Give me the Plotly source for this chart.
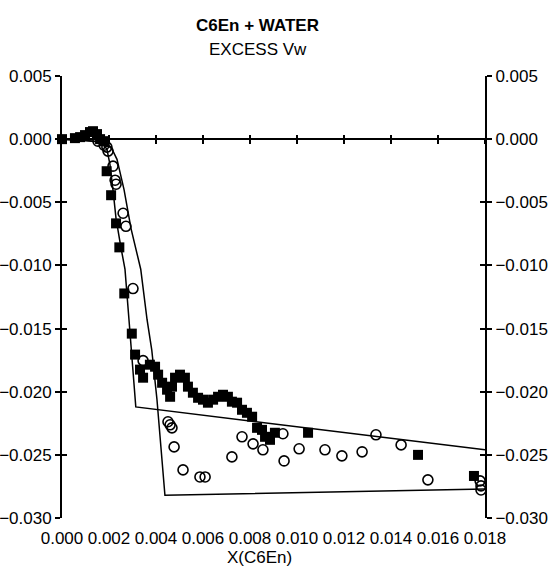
import plotly.graph_objects as go

# ---- data ----
sq_x = [0.0, 0.00055, 0.00077, 0.00098, 0.00119, 0.00132, 0.00149, 0.00162, 0.00179,
        0.0019, 0.00209, 0.0023, 0.00244, 0.00265, 0.00297, 0.00311, 0.00332, 0.00345,
        0.00374, 0.00396, 0.00409, 0.00426, 0.00447, 0.0046, 0.00468, 0.00481, 0.00502,
        0.00523, 0.00536, 0.00557, 0.00579, 0.006, 0.00621, 0.00643, 0.00664, 0.00685,
        0.00706, 0.00723, 0.00745, 0.00766, 0.00787, 0.00809, 0.0083, 0.00851, 0.00864,
        0.00885, 0.00906, 0.01047, 0.01515, 0.01753]
sq_y = [0.0, 0.00008, 0.00016, 0.00032, 0.00056, 0.00063, 0.0004, 0.0, -0.00016,
        -0.00254, -0.00444, -0.00667, -0.00857, -0.01222, -0.0154, -0.01706, -0.01825, -0.01889,
        -0.01786, -0.01802, -0.01865, -0.01929, -0.01984, -0.0204, -0.0196, -0.01889, -0.01865,
        -0.01889, -0.0196, -0.02008, -0.02048, -0.02063, -0.02087, -0.02063, -0.0204, -0.02024,
        -0.0204, -0.02079, -0.02087, -0.02143, -0.02167, -0.02198, -0.02286, -0.02302, -0.02357,
        -0.02381, -0.02325, -0.02325, -0.025, -0.02667]

ci_x = [0.00153, 0.00179, 0.00191, 0.00196, 0.00217, 0.00226, 0.0023, 0.0026, 0.00272,
        0.00302, 0.00345, 0.00451, 0.0046, 0.00468, 0.00477, 0.00515, 0.00587, 0.00609,
        0.00723, 0.00766, 0.00813, 0.00855, 0.0094, 0.00945, 0.01009, 0.01119, 0.01191,
        0.01277, 0.01336, 0.01443, 0.01557, 0.01779, 0.01783, 0.01783]
ci_y = [-0.00016, -0.00048, -0.00063, -0.00095, -0.00214, -0.00325, -0.00357, -0.00587, -0.0069,
        -0.01183, -0.01754, -0.02238, -0.02262, -0.02286, -0.02437, -0.02619, -0.02675, -0.02675,
        -0.02516, -0.02357, -0.02413, -0.0246, -0.02333, -0.02548, -0.02452, -0.0246, -0.02508,
        -0.02476, -0.02341, -0.02421, -0.02698, -0.02706, -0.02746, -0.02778]

curveA_x = [0.0, 0.00098, 0.00145, 0.00172, 0.00191, 0.00204, 0.00218, 0.0023, 0.00249, 0.00268,
            0.00285, 0.00298, 0.00314, 0.018]
curveA_y = [0.0, -0.00008, -0.0002, -0.0004, -0.00079, -0.002, -0.0042, -0.0063, -0.0084, -0.0103,
            -0.0143, -0.0175, -0.0212, -0.0246]

curveB_x = [0.0, 0.00098, 0.00155, 0.00192, 0.00213, 0.00234, 0.00264, 0.00294, 0.00335, 0.00362,
            0.00382, 0.00404, 0.00438, 0.018]
curveB_y = [0.0, -0.0001, -0.00018, -0.0004, -0.0008, -0.0016, -0.004, -0.0071, -0.0103, -0.0143,
            -0.0167, -0.0206, -0.0282, -0.0277]

x_ticks = [0.000, 0.002, 0.004, 0.006, 0.008, 0.010, 0.012, 0.014, 0.016, 0.018]
y_ticks = [0.005, 0.000, -0.005, -0.010, -0.015, -0.020, -0.025, -0.030]

title1 = "C6En + WATER"
title2 = "EXCESS Vw"
x_title = "X(C6En)"

FONT = "Liberation Sans, Arial, sans-serif"
FS = 17
XR = [0, 0.018]
YR = [-0.030, 0.005]

fig = go.Figure()
fig.add_trace(go.Scatter(x=curveA_x, y=curveA_y, mode="lines", line=dict(color="black", width=1.5),
                         showlegend=False, hoverinfo="skip"))
fig.add_trace(go.Scatter(x=curveB_x, y=curveB_y, mode="lines", line=dict(color="black", width=1.5),
                         showlegend=False, hoverinfo="skip"))
fig.add_trace(go.Scatter(x=sq_x, y=sq_y, mode="markers", cliponaxis=False,
                         marker=dict(symbol="square", size=10, color="black"), showlegend=False))
fig.add_trace(go.Scatter(x=ci_x, y=ci_y, mode="markers", cliponaxis=False,
                         marker=dict(symbol="circle-open", size=10, color="black", line=dict(width=1.6)),
                         showlegend=False))
# empty traces to bind the decorative axes
for xa, ya in [("x", "y2"), ("x", "y3"), ("x", "y4"), ("x2", "y"), ("x3", "y")]:
    fig.add_trace(go.Scatter(x=[], y=[], xaxis=xa, yaxis=ya, showlegend=False))

tickf = dict(family=FONT, size=FS, color="black")
common_y = dict(range=YR, tickvals=y_ticks, tickformat=".3f", showgrid=False, zeroline=False,
                showline=True, linecolor="black", linewidth=2, tickcolor="black", ticklen=5, tickwidth=2,
                automargin=False)
zpos = (0 - YR[0]) / (YR[1] - YR[0])

fig.update_layout(
    width=550, height=571,
    margin=dict(l=62, r=65, t=76, b=53),
    paper_bgcolor="white", plot_bgcolor="white",
    xaxis=dict(range=XR, tickvals=x_ticks, tickformat=".3f", showgrid=False, zeroline=False,
               showline=False, ticks="", tickfont=tickf, tickangle=0, ticklabelstandoff=8,
               automargin=False),
    xaxis2=dict(range=XR, overlaying="x", matches="x", anchor="free", position=zpos,
                tickvals=x_ticks, showticklabels=False, showgrid=False, zeroline=False,
                showline=True, linecolor="black", linewidth=2, ticks="outside", ticklen=4,
                tickwidth=1.5, tickcolor="black", automargin=False),
    xaxis3=dict(range=XR, overlaying="x", matches="x", anchor="free", position=zpos,
                tickvals=x_ticks, showticklabels=False, showgrid=False, zeroline=False,
                showline=False, ticks="inside", ticklen=4, tickwidth=1.5, tickcolor="black",
                automargin=False),
    yaxis=dict(side="left", ticks="outside", tickfont=tickf, **common_y),
    yaxis2=dict(side="right", overlaying="y", matches="y", anchor="x", ticks="outside", tickfont=tickf, **common_y),
    yaxis3=dict(side="left", overlaying="y", matches="y", anchor="x", ticks="inside", showticklabels=False, **common_y),
    yaxis4=dict(side="right", overlaying="y", matches="y", anchor="x", ticks="inside", showticklabels=False, **common_y),
    annotations=[
        dict(text=title1, xref="paper", yref="paper", x=0.461, y=1.115, showarrow=False,
             font=dict(family=FONT, size=17, color="black", weight="bold"), xanchor="center", yanchor="middle"),
        dict(text=title2, xref="paper", yref="paper", x=0.463, y=1.059, showarrow=False,
             font=dict(family=FONT, size=17, color="black"), xanchor="center", yanchor="middle"),
        dict(text=x_title, xref="paper", yref="paper", x=0.468, y=-0.09, showarrow=False,
             font=dict(family=FONT, size=17, color="black"), xanchor="center", yanchor="middle"),
    ],
)

fig.write_html("out.html")
